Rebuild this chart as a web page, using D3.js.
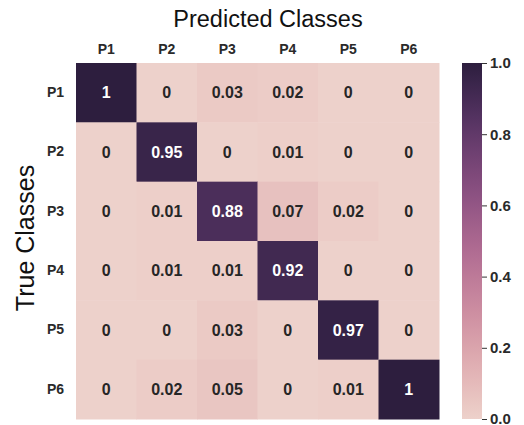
<!DOCTYPE html>
<html>
<head>
<meta charset="utf-8">
<script src="https://cdn.jsdelivr.net/npm/d3@7"></script>
<style>
  html, body { margin: 0; padding: 0; background: #ffffff; }
  svg { display: block; font-family: "Liberation Sans", Arial, Helvetica, sans-serif; }
</style>
</head>
<body>
<svg id="chart" width="524" height="425"></svg>
<script>
// Confusion matrix: rows are true classes, columns are predicted classes
const predictedLabels = ["P1", "P2", "P3", "P4", "P5", "P6"];
const trueLabels = ["P1", "P2", "P3", "P4", "P5", "P6"];
const rowP1 = [1, 0, 0.03, 0.02, 0, 0];
const rowP2 = [0, 0.95, 0, 0.01, 0, 0];
const rowP3 = [0, 0.01, 0.88, 0.07, 0.02, 0];
const rowP4 = [0, 0.01, 0.01, 0.92, 0, 0];
const rowP5 = [0, 0, 0.03, 0, 0.97, 0];
const rowP6 = [0, 0.02, 0.05, 0, 0.01, 1];
const colorbarTicks = [0, 0.2, 0.4, 0.6, 0.8, 1.0];

const matrix = [rowP1, rowP2, rowP3, rowP4, rowP5, rowP6];

// Cubehelix palette (start 0, rot 0.4, hue 0.8, gamma 1, light 0.85 -> dark 0.15)
function cubehelix(x) {
  const hue = 0.8, start = 0, rot = 0.4, gamma = 1;
  const xg = Math.pow(x, gamma);
  const a = hue * xg * (1 - xg) / 2;
  const phi = 2 * Math.PI * (start / 3 + rot * x);
  const c = Math.cos(phi), s = Math.sin(phi);
  const clip = v => Math.max(0, Math.min(1, v));
  const r = clip(xg + a * (-0.14861 * c + 1.78277 * s));
  const g = clip(xg + a * (-0.29227 * c - 0.90649 * s));
  const b = clip(xg + a * (1.97294 * c));
  return d3.rgb(r * 255, g * 255, b * 255);
}
const toLevel = d3.scaleLinear().domain([0, 1]).range([0.85, 0.15]).clamp(true);
const colorOf = v => cubehelix(toLevel(v));

const svg = d3.select("#chart");

const grid = { left: 76, right: 439, top: 63, bottom: 419 };
const x = d3.scaleBand().domain(predictedLabels).range([grid.left, grid.right]);
const y = d3.scaleBand().domain(trueLabels).range([grid.top, grid.bottom]);

const cells = [];
matrix.forEach((row, i) => row.forEach((v, j) => cells.push({ r: trueLabels[i], c: predictedLabels[j], v })));

svg.append("g").selectAll("rect").data(cells).join("rect")
  .attr("x", d => x(d.c))
  .attr("y", d => y(d.r))
  .attr("width", x.bandwidth() + 0.5)
  .attr("height", y.bandwidth() + 0.5)
  .attr("fill", d => colorOf(d.v));

function luminance(c) {
  const lin = u => { u /= 255; return u <= 0.03928 ? u / 12.92 : Math.pow((u + 0.055) / 1.055, 2.4); };
  return 0.2126 * lin(c.r) + 0.7152 * lin(c.g) + 0.0722 * lin(c.b);
}

svg.append("g").selectAll("text").data(cells).join("text")
  .attr("x", d => x(d.c) + x.bandwidth() / 2)
  .attr("y", d => y(d.r) + y.bandwidth() / 2)
  .attr("text-anchor", "middle")
  .attr("dominant-baseline", "central")
  .attr("font-size", 16)
  .attr("font-weight", "bold")
  .attr("fill", d => luminance(colorOf(d.v)) > 0.408 ? "#262626" : "#ffffff")
  .text(d => d3.format("")(+d.v.toFixed(2)));

// Axes: labels only, no domain lines or tick marks
const xAxis = svg.append("g")
  .attr("transform", `translate(0,${grid.top})`)
  .call(d3.axisTop(x).tickSize(0).tickPadding(9));
const yAxis = svg.append("g")
  .attr("transform", `translate(${grid.left},0)`)
  .call(d3.axisLeft(y).tickSize(0).tickPadding(12));
[xAxis, yAxis].forEach(g => {
  g.attr("font-size", null).attr("font-family", null);
  g.select(".domain").remove();
  g.selectAll("text")
    .attr("font-size", 14)
    .attr("font-weight", "bold")
    .attr("fill", "#2a2a2a");
});

svg.append("text")
  .attr("x", 268)
  .attr("y", 27)
  .attr("text-anchor", "middle")
  .attr("font-size", 23.5)
  .attr("fill", "#111111")
  .text("Predicted Classes");

svg.append("text")
  .attr("transform", `translate(34,${(grid.top + grid.bottom) / 2 - 3}) rotate(-90)`)
  .attr("text-anchor", "middle")
  .attr("font-size", 25)
  .attr("fill", "#111111")
  .text("True Classes");

// Colorbar
const cb = { left: 462, width: 20, top: 63, bottom: 419 };
const defs = svg.append("defs");
const grad = defs.append("linearGradient")
  .attr("id", "cbar").attr("x1", 0).attr("y1", 1).attr("x2", 0).attr("y2", 0);
d3.range(0, 1.0001, 0.05).forEach(t => {
  grad.append("stop").attr("offset", t).attr("stop-color", colorOf(t));
});
svg.append("rect")
  .attr("x", cb.left).attr("y", cb.top)
  .attr("width", cb.width).attr("height", cb.bottom - cb.top)
  .attr("fill", "url(#cbar)");

const cbScale = d3.scaleLinear().domain([0, 1]).range([cb.bottom, cb.top]);
const cbAxis = svg.append("g")
  .attr("transform", `translate(${cb.left + cb.width},0)`)
  .call(d3.axisRight(cbScale).tickValues(colorbarTicks).tickFormat(d3.format(".1f")).tickSize(5).tickPadding(3));
cbAxis.attr("font-size", null).attr("font-family", null);
cbAxis.select(".domain").remove();
cbAxis.selectAll("line").attr("stroke", "#333333");
cbAxis.selectAll("text")
  .attr("font-size", 15)
  .attr("font-weight", "bold")
  .attr("fill", "#2a2a2a");
</script>
</body>
</html>
